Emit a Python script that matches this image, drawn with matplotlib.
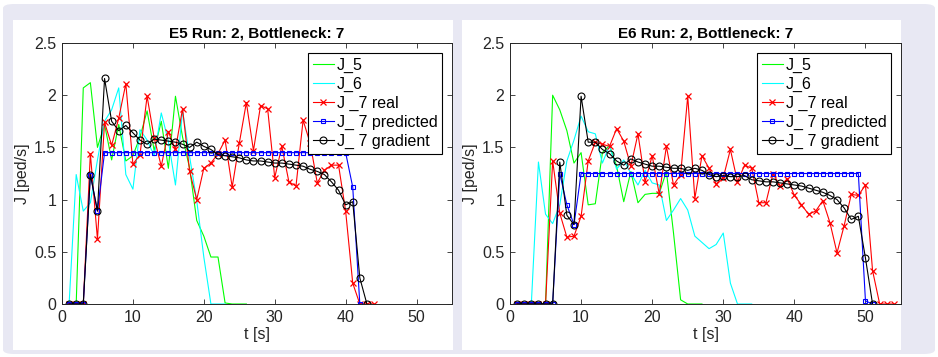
#Flow through bottleneck 7 - real vs predicted vs gradient

import numpy as np
import matplotlib.pyplot as plt
from matplotlib.patches import FancyBboxPatch, Rectangle

plt.rcParams['font.family'] = ['Liberation Sans', 'DejaVu Sans']

# E5 run 2 (values at t = 1, 2, 3, ... s)
e5_j5 = [0, 0, 2.07, 2.12, 1.5, 1.72, 1.38, 1.72, 1.37, 1.42, 1.6, 1.85, 1.47,
         1.75, 1.3, 1.99, 1.6, 1.3, 0.8, 0.65, 0.45, 0.45, 0.01, 0, 0, 0]
e5_j6 = [0, 1.24, 0.89, 0.97, 1.38, 1.75, 1.86, 2.07, 1.24, 1.10, 1.67, 1.57,
         1.42, 1.83, 1.56, 1.14, 1.85, 1.41, 0.99, 0.45, 0, 0, 0]
e5_real = [0, 0, 0, 1.44, 0.62, 1.74, 1.52, 1.78, 2.11, 1.34, 1.43, 1.99, 1.59,
           1.32, 1.65, 1.48, 1.87, 1.27, 1.0, 1.30, 1.35, 1.44, 1.57, 1.12, 1.54,
           1.93, 1.47, 1.90, 1.87, 1.21, 1.51, 1.17, 1.13, 1.76, 1.54, 1.16, 1.28,
           1.33, 1.33, 0.89, 0.20, 0, 0, 0]
e5_pred = [0, 0, 0, 1.24, 0.89] + [1.45] * 35 + [1.12, 0]
e5_grad = [0, 0, 0, 1.24, 0.89, 2.16, 1.75, 1.66, 1.71, 1.64, 1.57, 1.53, 1.58,
           1.57, 1.56, 1.55, 1.53, 1.50, 1.55, 1.51, 1.48, 1.43, 1.42, 1.41, 1.40,
           1.38, 1.37, 1.37, 1.36, 1.35, 1.35, 1.34, 1.33, 1.32, 1.29, 1.27, 1.24,
           1.17, 1.09, 0.95, 0.98, 0.25, 0]

# E6 run 2
e6_j5 = [0, 0, 0, 0, 0, 2.0, 1.86, 1.66, 1.35, 1.45, 0.95, 0.96, 1.45, 1.52,
         1.32, 0.98, 1.27, 0.97, 1.05, 1.06, 1.06, 1.27, 0.68, 0.04, 0, 0, 0]
e6_j6 = [0, 0, 0, 1.36, 0.86, 0.77, 0.95, 1.37, 1.57, 1.80, 1.65, 1.63, 1.35,
         1.52, 1.29, 1.38, 1.25, 1.14, 1.28, 1.16, 1.14, 0.80, 0.9, 1.01, 0.9,
         0.65, 0.59, 0.53, 0.57, 0.68, 0.2, 0, 0, 0]
e6_real = [0, 0, 0, 0, 0, 1.37, 0.87, 0.64, 0.65, 0.84, 1.37, 1.55, 1.53, 1.51,
           1.68, 1.56, 1.32, 1.63, 1.17, 1.42, 1.05, 1.51, 1.14, 1.24, 1.99, 1.01,
           1.42, 1.30, 1.15, 1.21, 1.48, 1.17, 1.33, 1.30, 0.97, 0.97, 1.25, 1.13,
           1.20, 1.04, 0.95, 0.86, 0.89, 0.99, 0.78, 0.49, 0.75, 1.05, 1.04, 1.14,
           0.32, 0, 0, 0]
e6_pred = [0, 0, 0, 0, 0, 0, 1.25, 0.95, 0.76] + [1.25] * 40 + [0.03, 0]
e6_grad = [0, 0, 0, 0, 0, 0, 1.36, 0.85, 0.76, 1.99, 1.55, 1.55, 1.48, 1.44,
           1.37, 1.33, 1.39, 1.36, 1.34, 1.32, 1.32, 1.31, 1.30, 1.30, 1.28, 1.30,
           1.28, 1.24, 1.22, 1.23, 1.22, 1.22, 1.23, 1.19, 1.18, 1.17, 1.17, 1.16,
           1.15, 1.14, 1.13, 1.11, 1.09, 1.07, 1.04, 1.0, 0.92, 0.81, 0.84, 0.44, 0]

titles = ['E5 Run: 2, Bottleneck: 7', 'E6 Run: 2, Bottleneck: 7']
labels = ['J_5', 'J_6', 'J _7 real', 'J_ 7 predicted', 'J_ 7 gradient']

W, H = 938, 357
fig = plt.figure(figsize=(W / 100, H / 100), dpi=100)
fig.patch.set_facecolor('white')

# lavender frame with white panels (behind the axes)
fig.patches.append(FancyBboxPatch((3 / W, 3 / H), 932 / W, 350 / H,
                                  boxstyle='round,pad=0,rounding_size=0.012',
                                  transform=fig.transFigure, fc='#e8e8f3', ec='none',
                                  zorder=-10))
fig.patches.append(Rectangle((13 / W, 7 / H), 440 / W, 330 / H,
                             transform=fig.transFigure, fc='white', ec='none', zorder=-9))
fig.patches.append(Rectangle((462 / W, 7 / H), 439 / W, 330 / H,
                             transform=fig.transFigure, fc='white', ec='none', zorder=-9))

axes = [fig.add_axes([62 / W, 53 / H, 390 / W, 261 / H]),
        fig.add_axes([510 / W, 53 / H, 391 / W, 261 / H])]

data = [(e5_j5, e5_j6, e5_real, e5_pred, e5_grad),
        (e6_j5, e6_j6, e6_real, e6_pred, e6_grad)]

for ax, title, (j5, j6, real, pred, grad) in zip(axes, titles, data):
    t = lambda v: np.arange(1, len(v) + 1)
    ax.plot(t(j5), j5, color='#00ff00', lw=0.8, label=labels[0])
    ax.plot(t(j6), j6, color='#00ffff', lw=0.8, label=labels[1])
    ax.plot(t(real), real, color='red', lw=0.8, marker='x', ms=4.5, mew=0.9, label=labels[2])
    ax.plot(t(pred), pred, color='blue', lw=0.8, marker='s', ms=3.5, mfc='none', mew=0.8, label=labels[3])
    ax.plot(t(grad), grad, color='black', lw=0.8, marker='o', ms=5, mfc='none', mew=0.8, label=labels[4])
    ax.set_xlim(0, 55)
    ax.set_ylim(0, 2.5)
    ax.set_xticks([0, 10, 20, 30, 40, 50])
    ax.set_yticks([0, 0.5, 1, 1.5, 2, 2.5])
    ax.set_yticklabels(['0', '0.5', '1', '1.5', '2', '2.5'])
    ax.tick_params(direction='in', top=True, right=True, length=3.5, width=0.6,
                   labelsize=11.5, colors='#262626', pad=4)
    for s in ax.spines.values():
        s.set_color('#262626')
        s.set_linewidth(0.7)
    ax.set_title(title, fontsize=11, fontweight='bold', pad=4)
    ax.set_xlabel('t [s]', fontsize=11.5, color='#262626', labelpad=2)
    ax.set_ylabel('J [ped/s]', fontsize=11.5, color='#262626', labelpad=3)
    leg = ax.legend(loc='upper right', fontsize=11.5, fancybox=False, framealpha=1,
                    edgecolor='black', borderaxespad=0.6, labelspacing=0.25,
                    handlelength=1.3, handletextpad=0.2, borderpad=0.3)
    leg.get_frame().set_linewidth(0.8)

plt.savefig('out.png', dpi=100)
